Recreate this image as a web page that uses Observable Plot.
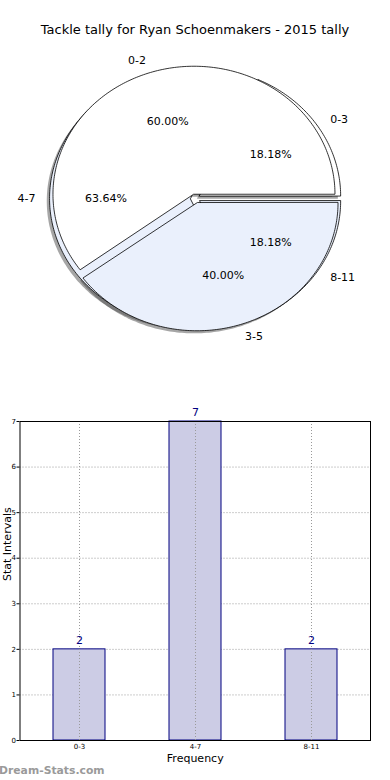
<!DOCTYPE html>
<html>
<head>
<meta charset="utf-8">
<script src="https://cdn.jsdelivr.net/npm/d3@7"></script>
<script src="https://cdn.jsdelivr.net/npm/@observablehq/plot@0.6"></script>
<style>
  html, body { margin: 0; padding: 0; background: #fff; }
  body { width: 390px; height: 780px; position: relative; overflow: hidden; font-family: "DejaVu Sans", sans-serif; }
  #title { position: absolute; top: 21px; left: 0; width: 390px; text-align: center; font-size: 13px; color: #000; line-height: 18px; }
  #pie { position: absolute; top: 40px; left: 0; }
  #bar { position: absolute; top: 400px; left: 0; }
  #wm { position: absolute; left: -1px; top: 763px; font-size: 10.8px; font-weight: bold; color: #9a9a9a; line-height: 15px; }
</style>
</head>
<body>
<div id="title">Tackle tally for Ryan Schoenmakers - 2015 tally</div>
<div id="pie"></div>
<div id="bar"></div>
<div id="wm">Dream-Stats.com</div>
<script>
// ---- data ----
const pie1Labels = ["0-2", "3-5"];
const pie1Values = [60, 40];
const pie1Colors = ["#ffffff", "#eaf0fc"];

const pie2Labels = ["0-3", "4-7", "8-11"];
const pie2Values = [2, 7, 2];
const pie2Colors = ["#ffffff", "#eaf0fc", "#eaf0fc"];

const barCategories = ["0-3", "4-7", "8-11"];
const barValues = [2, 7, 2];
const yTicks = [0, 1, 2, 3, 4, 5, 6, 7];

const explode = 0.035;

// ---- build wedges ----
function buildPie(labels, values, colors, pieId) {
  const total = d3.sum(values);
  let start = 0;
  const wedges = [];
  labels.forEach((lab, i) => {
    const span = values[i] / total * 360;
    const a0 = start, a1 = start + span;
    const mid = (a0 + a1) / 2 * Math.PI / 180;
    const ox = explode * Math.cos(mid), oy = explode * Math.sin(mid);
    const pts = [{x: ox, y: oy}];
    const n = Math.max(2, Math.ceil(span));
    for (let k = 0; k <= n; k++) {
      const a = (a0 + span * k / n) * Math.PI / 180;
      pts.push({x: ox + Math.cos(a), y: oy + Math.sin(a)});
    }
    wedges.push({
      id: pieId + "-" + i, label: lab, fill: colors[i],
      pct: (values[i] / total * 100).toFixed(2) + "%",
      pts,
      lx: ox + 1.1 * Math.cos(mid), ly: oy + 1.1 * Math.sin(mid),
      px: ox + 0.6 * Math.cos(mid), py: oy + 0.6 * Math.sin(mid)
    });
    start = a1;
  });
  return wedges;
}
const pie1 = buildPie(pie1Labels, pie1Values, pie1Colors, "a");
const pie2 = buildPie(pie2Labels, pie2Values, pie2Colors, "b");
const flat = ws => ws.flatMap(w => w.pts.map(p => ({...p, id: w.id, fill: w.fill})));
const pts1 = flat(pie1), pts2 = flat(pie2);
const allW = [...pie2, ...pie1];

const pieFont = {fontSize: 11, fill: "#000"};
const pie = Plot.plot({
  width: 390, height: 320, margin: 0,
  style: {fontFamily: "DejaVu Sans, sans-serif", background: "transparent", overflow: "visible"},
  x: {domain: [-1, 1], range: [54, 336], axis: null},
  y: {domain: [-1, 1], range: [286, 30], axis: null},
  color: {type: "identity"},
  marks: [
    Plot.line([...pts2, ...pts1], {x: "x", y: "y", z: "id", curve: "linear-closed", fill: "#4d4d4d", fillOpacity: 0.5, stroke: "none", dx: -2.8, dy: 2.6}),
    Plot.line(pts2, {x: "x", y: "y", z: "id", curve: "linear-closed", fill: "fill", stroke: "#000", strokeWidth: 0.8}),
    Plot.line(pts1, {x: "x", y: "y", z: "id", curve: "linear-closed", fill: "fill", stroke: "#000", strokeWidth: 0.8}),
    Plot.text(allW.filter(w => w.lx >= 0), {x: "lx", y: "ly", text: "label", textAnchor: "start", ...pieFont}),
    Plot.text(allW.filter(w => w.lx < 0), {x: "lx", y: "ly", text: "label", textAnchor: "end", ...pieFont}),
    Plot.text(allW, {x: "px", y: "py", text: "pct", ...pieFont})
  ]
});
document.getElementById("pie").appendChild(pie);

// ---- bar chart ----
const barData = barCategories.map((c, i) => ({cat: c, v: barValues[i]}));
const bar = Plot.plot({
  width: 390, height: 380,
  marginTop: 21, marginBottom: 40, marginLeft: 19.5, marginRight: 20,
  style: {fontFamily: "DejaVu Sans, sans-serif", background: "transparent", overflow: "visible", fontSize: "7px"},
  x: {domain: barCategories, paddingInner: 0.555, paddingOuter: 0.2775, label: null, tickSize: 0, tickPadding: 4},
  y: {domain: [0, 7], ticks: yTicks, tickFormat: d3.format("d"), label: null, tickSize: 3, tickPadding: 1},
  marks: [
    Plot.ruleY(yTicks, {stroke: "#9a9a9a", strokeDasharray: "1,2", strokeWidth: 1}),
    Plot.barY(barData, {x: "cat", y: "v", fill: "#ccccE5", stroke: "#000080", strokeWidth: 1}),
    Plot.ruleX(barCategories, {x: d => d, stroke: "#9a9a9a", strokeDasharray: "1,2", strokeWidth: 1}),
    Plot.text(barData, {x: "cat", y: "v", text: d => String(d.v), dy: -9, fill: "#000080", fontSize: 11}),
    Plot.frame({stroke: "#000", strokeWidth: 1}),
    Plot.text(["Stat Intervals"], {frameAnchor: "left", rotate: -90, dx: -13, fontSize: 11, fill: "#000"}),
    Plot.text(["Frequency"], {frameAnchor: "bottom", dy: 21, fontSize: 11, fill: "#000"})
  ]
});
document.getElementById("bar").appendChild(bar);
</script>
</body>
</html>
